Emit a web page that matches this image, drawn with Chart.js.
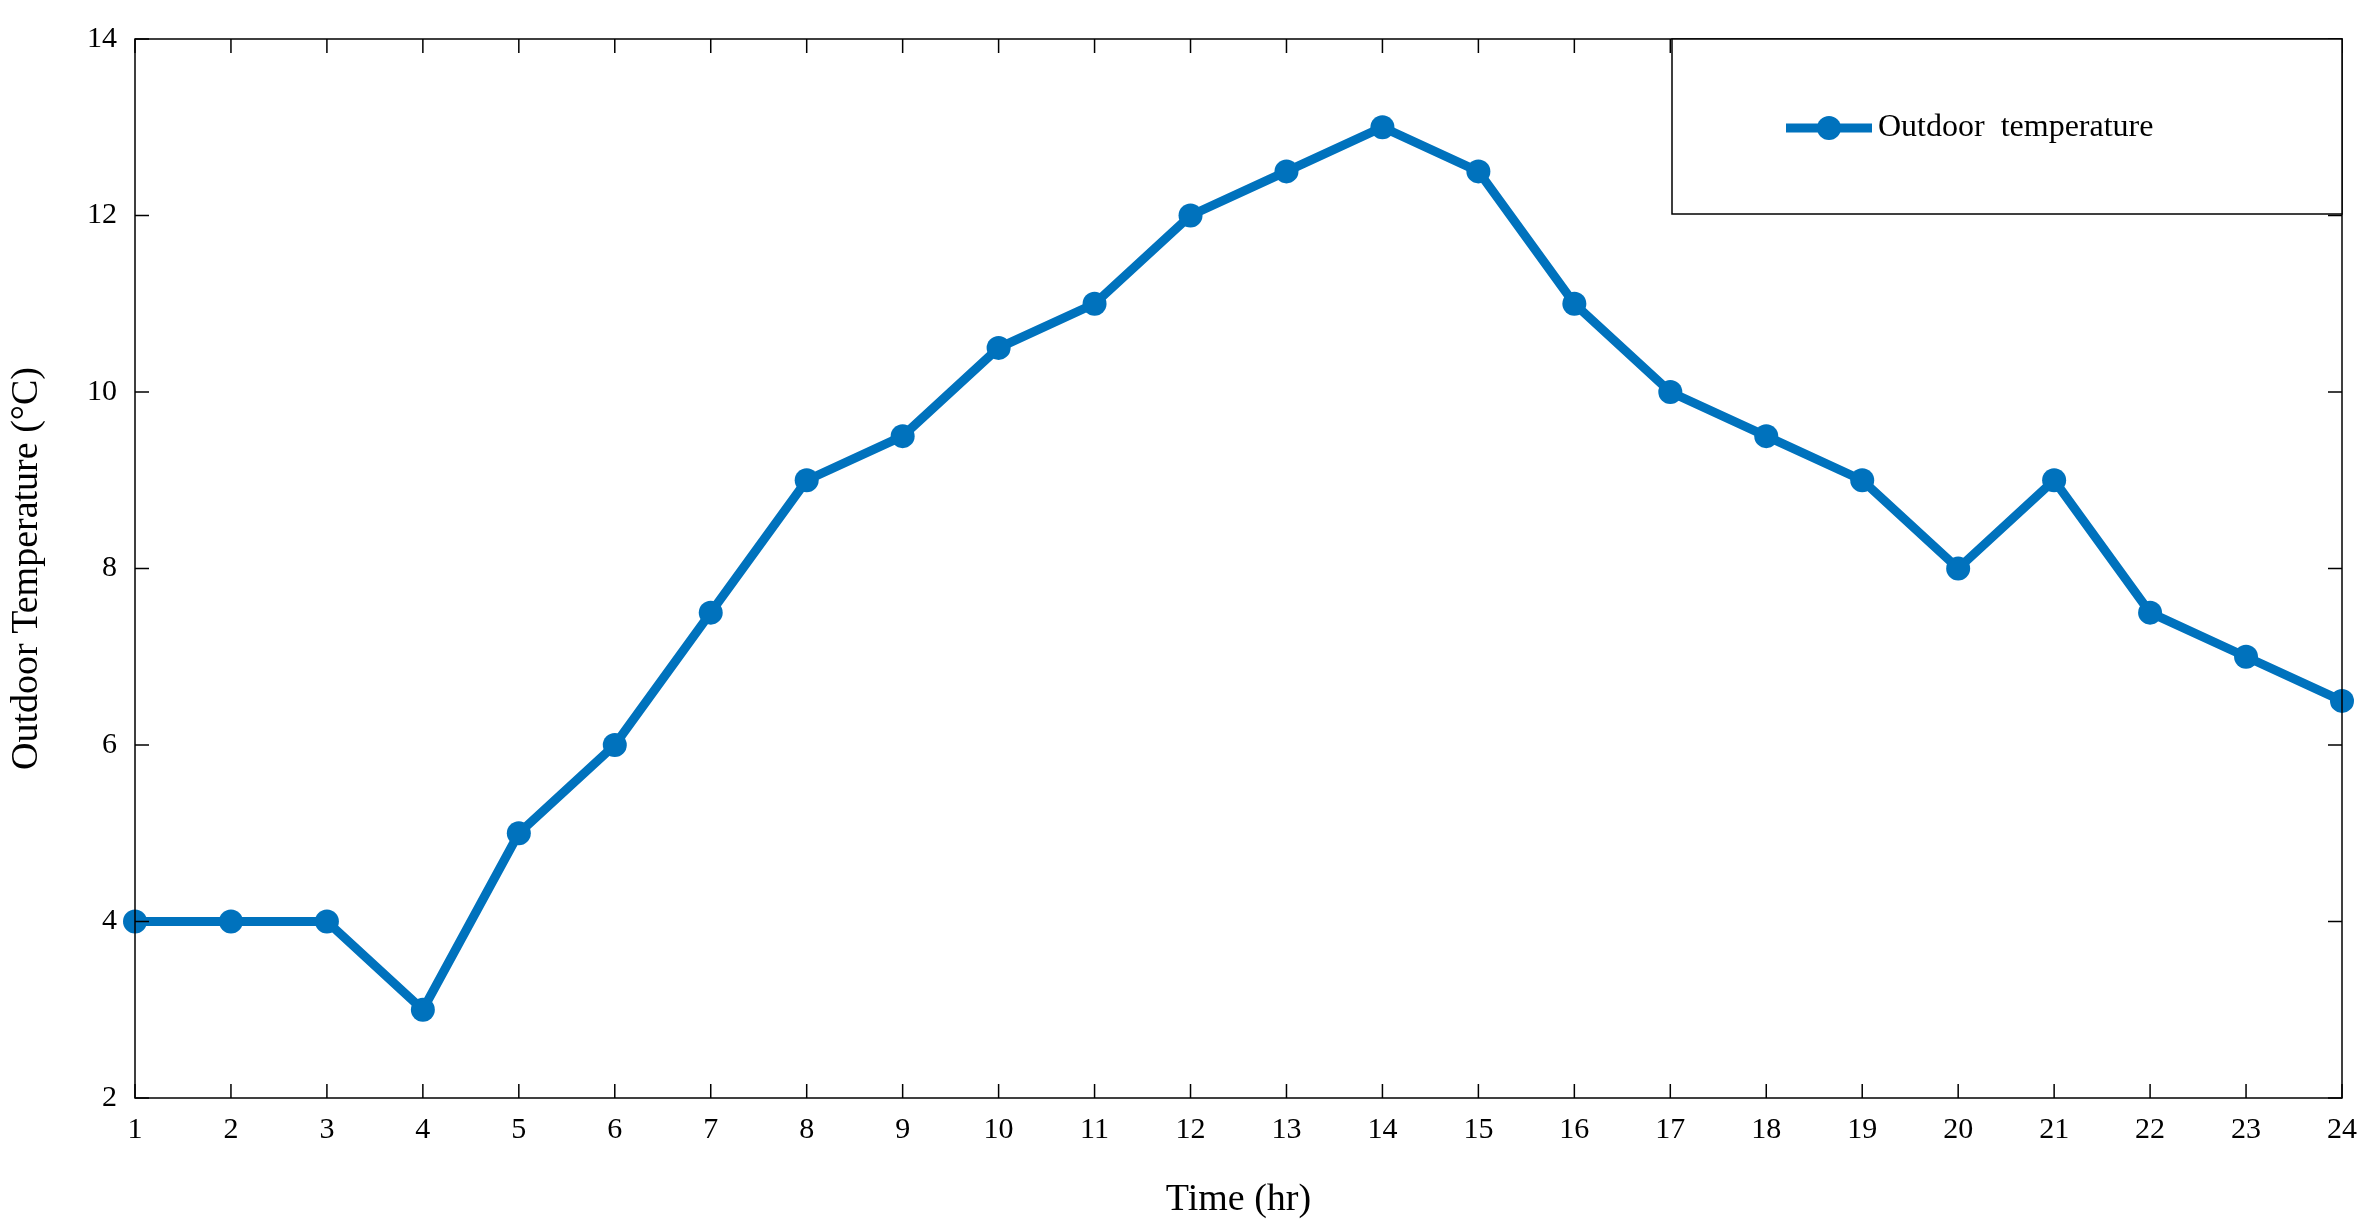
<!DOCTYPE html>
<html><head><meta charset="utf-8">
<script src="https://cdn.jsdelivr.net/npm/chart.js@4/dist/chart.umd.min.js"></script>
<style>html,body{margin:0;padding:0;background:#fff}#w{width:2377px;height:1227px}</style>
</head><body><div id="w"><canvas id="c"></canvas></div>
<script>
const hours = ['1','2','3','4','5','6','7','8','9','10','11','12','13','14','15','16','17','18','19','20','21','22','23','24'];
const temperature = [4,4,4,3,5,6,7.5,9,9.5,10.5,11,12,12.5,13,12.5,11,10,9.5,9,8,9,7.5,7,6.5];
const seriesName = 'Outdoor  temperature';
const yTicks = [2,4,6,8,10,12,14];
const color = '#0072BD';
const font = 'Liberation Serif';

const boxPlugin = {
  id:'box',
  afterDraw(chart){
    const {ctx, chartArea:a, scales:{x,y}} = chart;
    ctx.save();
    ctx.strokeStyle='#000'; ctx.lineWidth=1.5;
    ctx.strokeRect(a.left,a.top,a.right-a.left,a.bottom-a.top);
    const L=14;
    ctx.beginPath();
    hours.forEach((h,i)=>{const px=x.getPixelForValue(i);
      ctx.moveTo(px,a.bottom);ctx.lineTo(px,a.bottom-L);
      ctx.moveTo(px,a.top);ctx.lineTo(px,a.top+L);});
    yTicks.forEach(v=>{const py=y.getPixelForValue(v);
      ctx.moveTo(a.left,py);ctx.lineTo(a.left+L,py);
      ctx.moveTo(a.right,py);ctx.lineTo(a.right-L,py);});
    ctx.stroke();
    // legend
    const lx=1672, ly=a.top, lw=a.right-lx, lh=175;
    ctx.fillStyle='#fff'; ctx.fillRect(lx,ly,lw,lh);
    ctx.strokeRect(lx,ly,lw,lh);
    const cy=ly+89;
    ctx.strokeStyle=color; ctx.lineWidth=9;
    ctx.beginPath();ctx.moveTo(1786,cy);ctx.lineTo(1872,cy);ctx.stroke();
    ctx.fillStyle=color;ctx.beginPath();ctx.arc(1829,cy,12,0,Math.PI*2);ctx.fill();
    ctx.fillStyle='#000';ctx.font='32px "'+font+'"';ctx.textBaseline='middle';
    ctx.fillText(seriesName,1878,cy);
    ctx.restore();
  }
};

new Chart(document.getElementById('c'),{
  type:'line',
  data:{labels:hours,datasets:[{label:seriesName,data:temperature,borderColor:color,backgroundColor:color,
    borderWidth:9,pointRadius:12,pointHoverRadius:12,pointBackgroundColor:color,pointBorderWidth:0,clip:false,tension:0}]},
  options:{responsive:true,maintainAspectRatio:false,animation:false,
    layout:{padding:{top:39,right:35,left:0,bottom:0}},
    plugins:{legend:{display:false},tooltip:{enabled:false}},
    scales:{
      x:{type:'category',offset:false,grid:{display:false},border:{display:false},
        ticks:{color:'#000',font:{family:font,size:30},padding:6,maxRotation:0,autoSkip:false},
        title:{display:true,text:'Time (hr)',color:'#000',font:{family:font,size:38},padding:{top:0}},
        afterFit(s){s.height=129;}},
      y:{min:2,max:14,grid:{display:false},border:{display:false},
        afterBuildTicks(s){s.ticks=yTicks.map(v=>({value:v}));},
        ticks:{color:'#000',font:{family:font,size:30},padding:10},
        title:{display:true,text:'Outdoor Temperature (°C)',color:'#000',font:{family:font,size:38},padding:{bottom:4}},
        afterFit(s){s.width=135;}}
    }},
  plugins:[boxPlugin]
});
</script></body></html>
